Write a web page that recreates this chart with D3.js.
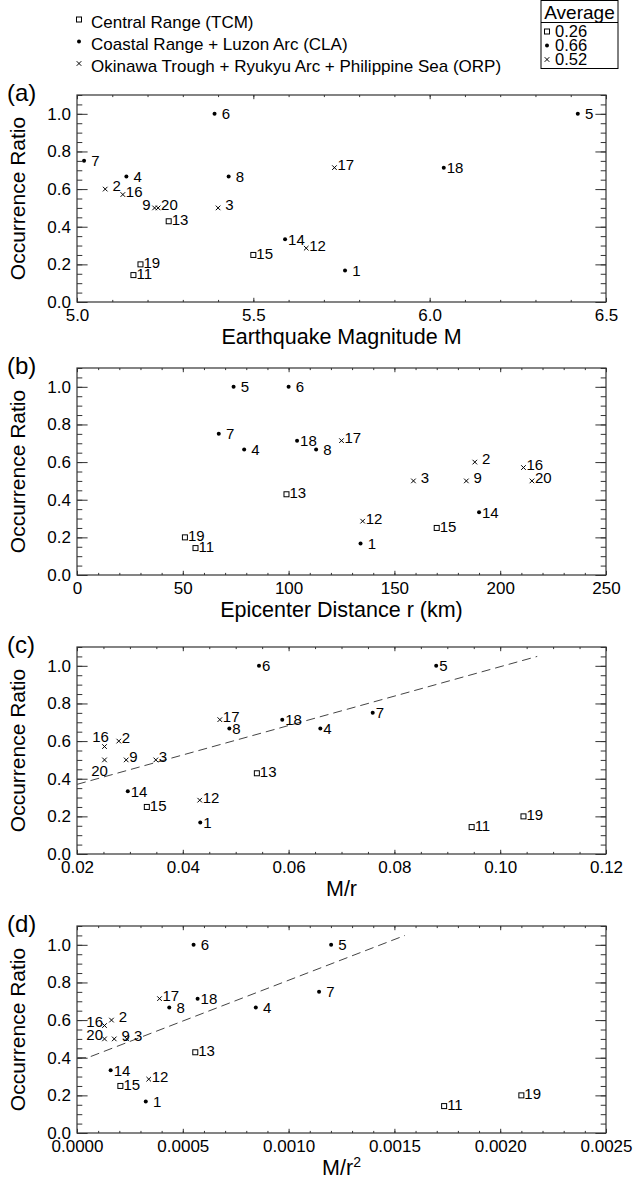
<!DOCTYPE html>
<html>
<head>
<meta charset="utf-8">
<script src="https://cdn.jsdelivr.net/npm/d3@7"></script>
<style>
	body { margin: 0; background: #fff; }
	text { font-family: "Liberation Sans", Arial, Helvetica, sans-serif; fill: #000; }
</style>
</head>
<body>
<div id="chart"></div>
<script>
// Data
// -----------------------

// event number and tectonic region of each event
const eventIds = [1, 2, 3, 4, 5, 6, 7, 8, 9, 11, 12, 13, 14, 15, 16, 17, 18, 19, 20];
const regions = ["CLA", "ORP", "ORP", "CLA", "CLA", "CLA", "CLA", "CLA", "ORP", "TCM",
	"ORP", "TCM", "CLA", "TCM", "ORP", "ORP", "CLA", "TCM", "ORP"];

// y value, same in all four panels
const occurrenceRatio = [0.167, 0.600, 0.500, 0.667, 1.000, 1.000, 0.750, 0.667, 0.500, 0.143,
	0.286, 0.429, 0.333, 0.250, 0.571, 0.714, 0.714, 0.200, 0.500];

// x values, one array per panel
const magnitude = [5.76, 5.08, 5.40, 5.14, 6.42, 5.39, 5.02, 5.43, 5.22, 5.16,
	5.65, 5.26, 5.59, 5.50, 5.13, 5.73, 6.04, 5.18, 5.23];
const distanceKm = [134, 188, 159, 79, 74, 100, 67, 113, 184, 56,
	135, 99, 190, 170, 211, 125, 104, 51, 215];
const magOverR = [0.0433, 0.0279, 0.0349, 0.0660, 0.0879, 0.0544, 0.0759, 0.0488, 0.0293, 0.0946,
	0.0432, 0.0540, 0.0296, 0.0332, 0.0252, 0.0470, 0.0588, 0.1044, 0.0252];
const magOverR2 = [0.000325, 0.000163, 0.000235, 0.000845, 0.001201, 0.000551, 0.001144, 0.000436, 0.000176, 0.001735,
	0.000339, 0.000559, 0.000159, 0.000205, 0.000130, 0.000390, 0.000570, 0.002100, 0.000130];

// dashed fit lines in (c) and (d)
const fitLineC = [[0.020, 0.37], [0.107, 1.05]];
const fitLineD = [[0.00000, 0.40], [0.00005, 0.40], [0.00155, 1.05]];

// legend
const legendKeys = ["TCM", "CLA", "ORP"];
const legendNames = ["Central Range (TCM)", "Coastal Range + Luzon Arc (CLA)",
	"Okinawa Trough + Ryukyu Arc + Philippine Sea (ORP)"];
const regionAverages = ["0.26", "0.66", "0.52"];

// ticks
const yTicks = [0.0, 0.2, 0.4, 0.6, 0.8, 1.0];
const xTicksA = [5.0, 5.5, 6.0, 6.5];
const xTicksB = [0, 50, 100, 150, 200, 250];
const xTicksC = [0.02, 0.04, 0.06, 0.08, 0.10, 0.12];
const xTicksD = [0.0000, 0.0005, 0.0010, 0.0015, 0.0020, 0.0025];


// Layout
// ------

const W = 635, H = 1190;
const left = 77, right = 606, plotH = 207;
const panelTops = [95, 368, 647, 926];
const majorY = 10.6, minorY = 5.3, majorX = 4.2, minorX = 2.1;
const frameColor = "#333";

const panels = [
	{ tag: "(a)", xs: magnitude, domain: [5.0, 6.5], ticks: xTicksA, minor: 0.1, fmt: d3.format(".1f"),
		title: "Earthquake Magnitude M", pad: true, fit: null,
		overrides: { 9: { anchor: "end", dx: -4, dy: 2.4 } } },
	{ tag: "(b)", xs: distanceKm, domain: [0, 250], ticks: xTicksB, minor: 10, fmt: d3.format("d"),
		title: "Epicenter Distance r (km)", pad: true, fit: null, overrides: {} },
	{ tag: "(c)", xs: magOverR, domain: [0.02, 0.12], ticks: xTicksC, minor: 0.005, fmt: d3.format(".2f"),
		title: "M/r", pad: false, fit: fitLineC,
		overrides: { 16: { anchor: "middle", dx: -4, dy: -4.6 }, 20: { anchor: "middle", dx: -5, dy: 16.4 } } },
	{ tag: "(d)", xs: magOverR2, domain: [0, 0.0025], ticks: xTicksD, minor: 0.0001, fmt: d3.format(".4f"),
		title: "M/r", sup: "2", pad: true, fit: fitLineD,
		overrides: { 16: { anchor: "end", dx: -1.5, dy: 1.4 }, 20: { anchor: "end", dx: -1.5, dy: 1.4 } } }
];

const svg = d3.select("#chart").append("svg")
	.attr("width", W)
	.attr("height", H);


// Helpers
// -------

function drawMarker(g, kind, cx, cy) {
	if (kind === "TCM") {
		g.append("rect")
			.attr("x", cx - 2.5).attr("y", cy - 2.5)
			.attr("width", 5).attr("height", 5)
			.attr("fill", "none").attr("stroke", "#000").attr("stroke-width", 1);
	} else if (kind === "CLA") {
		g.append("circle")
			.attr("cx", cx).attr("cy", cy).attr("r", 2)
			.attr("fill", "#000");
	} else {
		g.append("path")
			.attr("d", `M${cx - 2.3},${cy - 2.3}L${cx + 2.3},${cy + 2.3}M${cx - 2.3},${cy + 2.3}L${cx + 2.3},${cy - 2.3}`)
			.attr("stroke", "#000").attr("stroke-width", 1);
	}
}

function styleAxis(sel, fontSize) {
	sel.select(".domain").remove();
	sel.selectAll("line").attr("stroke", frameColor).attr("stroke-width", 1);
	sel.attr("font-family", null).attr("font-size", fontSize);
	sel.selectAll("text").attr("fill", "#000");
}


// Panels
// ------

panels.forEach((p, k) => {
	const top = panelTops[k], bottom = top + plotH;
	const x = d3.scaleLinear().domain(p.domain).range([left, right]);
	const y = d3.scaleLinear().domain([0, 1.1]).range([bottom, top]);
	const g = svg.append("g");

	const minorXs = d3.range(p.domain[0], p.domain[1] + p.minor / 2, p.minor);
	const minorYs = d3.range(0, 1.1 + 0.025, 0.05);

	// minor ticks on all four sides
	g.append("g").attr("transform", `translate(0,${bottom})`)
		.call(d3.axisBottom(x).tickValues(minorXs).tickSize(-minorX).tickFormat(""))
		.call(s => styleAxis(s, 17));
	g.append("g").attr("transform", `translate(0,${top})`)
		.call(d3.axisTop(x).tickValues(minorXs).tickSize(-minorX).tickFormat(""))
		.call(s => styleAxis(s, 17));
	g.append("g").attr("transform", `translate(${left},0)`)
		.call(d3.axisLeft(y).tickValues(minorYs).tickSize(-minorY).tickFormat(""))
		.call(s => styleAxis(s, 17));
	g.append("g").attr("transform", `translate(${right},0)`)
		.call(d3.axisRight(y).tickValues(minorYs).tickSize(-minorY).tickFormat(""))
		.call(s => styleAxis(s, 17));

	// major ticks
	g.append("g").attr("transform", `translate(0,${bottom})`)
		.call(d3.axisBottom(x).tickValues(p.ticks).tickSize(-majorX).tickPadding(7).tickFormat(p.fmt))
		.call(s => styleAxis(s, 17));
	g.append("g").attr("transform", `translate(0,${top})`)
		.call(d3.axisTop(x).tickValues(p.ticks).tickSize(-majorX).tickFormat(""))
		.call(s => styleAxis(s, 17));
	g.append("g").attr("transform", `translate(${left},0)`)
		.call(d3.axisLeft(y).tickValues(yTicks).tickSize(-majorY).tickPadding(6).tickFormat(d3.format(".1f")))
		.call(s => styleAxis(s, 17));
	g.append("g").attr("transform", `translate(${right},0)`)
		.call(d3.axisRight(y).tickValues(yTicks).tickSize(-majorY).tickFormat(""))
		.call(s => styleAxis(s, 17));

	// frame
	g.append("rect")
		.attr("x", left).attr("y", top)
		.attr("width", right - left).attr("height", plotH)
		.attr("fill", "none")
		.attr("stroke", frameColor)
		.attr("stroke-width", 1.2);

	// fit line
	if (p.fit) {
		g.append("path")
			.datum(p.fit)
			.attr("fill", "none")
			.attr("stroke", "#444")
			.attr("stroke-width", 1)
			.attr("stroke-dasharray", "9,5")
			.attr("d", d3.line()
				.x(d => x(d[0]))
				.y(d => y(d[1]))
			);
	}

	// points and their numbers
	eventIds.forEach((id, i) => {
		const kind = regions[i];
		const cx = x(p.xs[i]), cy = y(occurrenceRatio[i]);
		drawMarker(g, kind, cx, cy);

		let dx = 3 + (p.pad && id < 10 ? 4.2 : 0);
		let dy = kind === "ORP" ? 2.4 : (kind === "TCM" ? 3.6 : 5.2);
		let anchor = "start";
		const o = p.overrides[id];
		if (o) { dx = o.dx; dy = o.dy; anchor = o.anchor; }

		g.append("text")
			.attr("x", cx + dx)
			.attr("y", cy + dy)
			.attr("text-anchor", anchor)
			.style("font-size", "15px")
			.text(id);
	});

	// panel tag
	g.append("text")
		.attr("x", 7)
		.attr("y", top + 6)
		.style("font-size", "24px")
		.text(p.tag);

	// y-label
	g.append("text")
		.attr("transform", `translate(25,${(top + bottom) / 2}) rotate(-90)`)
		.attr("text-anchor", "middle")
		.style("font-size", "21px")
		.text("Occurrence Ratio");

	// x-label
	const xl = g.append("text")
		.attr("x", (left + right) / 2)
		.attr("y", bottom + 42)
		.attr("text-anchor", "middle")
		.style("font-size", "21.5px")
		.text(p.title);
	if (p.sup) {
		xl.append("tspan")
			.attr("dy", -8)
			.style("font-size", "14px")
			.text(p.sup);
	}
});


// Legend
// ------

const legendRows = [21.5, 43.5, 65.5];
legendKeys.forEach((key, i) => {
	drawMarker(svg, key, 79, legendRows[i] - 2);
	svg.append("text")
		.attr("x", 91)
		.attr("y", legendRows[i] + 6)
		.style("font-size", "17px")
		.text(legendNames[i]);
});

// averages box
svg.append("rect")
	.attr("x", 541).attr("y", 0.5)
	.attr("width", 77).attr("height", 68)
	.attr("fill", "none")
	.attr("stroke", "#000")
	.attr("stroke-width", 1);
svg.append("line")
	.attr("x1", 541).attr("x2", 618)
	.attr("y1", 22.5).attr("y2", 22.5)
	.attr("stroke", "#000")
	.attr("stroke-width", 1);
svg.append("text")
	.attr("x", 579.5)
	.attr("y", 18.5)
	.attr("text-anchor", "middle")
	.style("font-size", "19px")
	.text("Average");

const avgRows = [37, 51, 65];
legendKeys.forEach((key, i) => {
	drawMarker(svg, key, 547, avgRows[i] - 5.5);
	svg.append("text")
		.attr("x", 555)
		.attr("y", avgRows[i])
		.style("font-size", "16.5px")
		.text(regionAverages[i]);
});
</script>
</body>
</html>
